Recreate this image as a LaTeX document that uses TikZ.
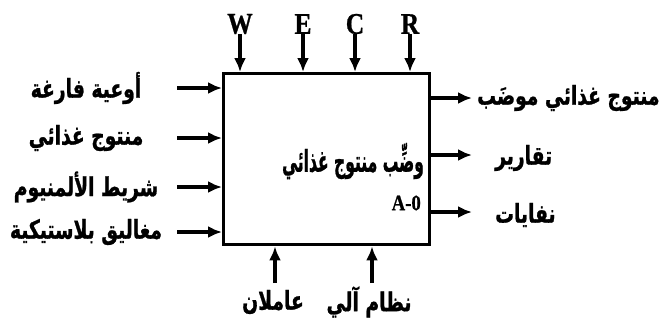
\documentclass[tikz,border=0pt]{standalone}
\usepackage{fontspec}
\newfontfamily\arabicfont[Script=Arabic, FakeStretch=0.72, BoldFeatures={FakeBold=1}]{DejaVu Sans}
\newfontfamily\latinfont[FakeStretch=0.85, BoldFeatures={FakeBold=0.8}]{Liberation Serif}
\TeXXeTstate=1
\usetikzlibrary{positioning,arrows.meta}
\tikzset{
  flow/.style={-{Latex[length=14pt,width=12pt]}, line width=3.4pt},
  arlabel/.style={font=\arabicfont\bfseries\fontsize{26}{30}\selectfont, inner sep=0pt},
  ctrl/.style={font=\latinfont\bfseries\fontsize{30}{32}\selectfont, inner sep=0pt},
}
\begin{document}
\begin{tikzpicture}[x=1pt, y=-1pt]
    \useasboundingbox (0,0) rectangle (672,322);
    % activity box
    \node[draw, line width=3.4pt, minimum width=206pt, minimum height=171pt, inner sep=0pt, anchor=north west] (box) at (222,72) {};
    \node[arlabel, font=\arabicfont\bfseries\fontsize{30}{34}\selectfont] (act) at (353,161) {\scalebox{0.72}[1]{\beginR وضِّب منتوج غذائي\endR}};
    \node[ctrl, font=\latinfont\bfseries\fontsize{22}{24}\selectfont, anchor=east] (num) at (421,203) {A-0};
    % controls
    \foreach \name/\lbl/\px in {w/W/240, e/E/303, c/C/355, r/R/410} {
        \node[ctrl] (\name) at (\px,24) {\lbl};
        \draw[flow] (\name.south) -- (\name.south |- box.north);
    }
    % inputs
    \foreach \name/\txt/\py in {in1/أوعية فارغة/88, in2/منتوج غذائي/138, in3/شريط الألمنيوم/187, in4/مغاليق بلاستيكية/232} {
        \node[arlabel] (\name) at (86,\py) {\beginR\txt\endR};
        \coordinate (\name s) at (177,\py);
        \draw[flow] (\name s) -- (box.west |- \name s);
    }
    % outputs
    \coordinate (out1e) at (472,98);
    \coordinate (out2e) at (472,155);
    \coordinate (out3e) at (472,212);
    \draw[flow] (box.east |- out1e) -- (out1e);
    \draw[flow] (box.east |- out2e) -- (out2e);
    \draw[flow] (box.east |- out3e) -- (out3e);
    \node[arlabel, anchor=west] (out1) at (477,98) {\beginR منتوج غذائي موضَب\endR};
    \node[arlabel, anchor=west] (out2) at (495,158) {\beginR تقارير\endR};
    \node[arlabel, anchor=west] (out3) at (495,215) {\beginR نفايات\endR};
    % mechanisms
    \coordinate (m1s) at (275,283);
    \coordinate (m2s) at (372,283);
    \draw[flow] (m1s) -- (m1s |- box.south);
    \draw[flow] (m2s) -- (m2s |- box.south);
    \node[arlabel] (m1) at (273,302) {\beginR عاملان\endR};
    \node[arlabel] (m2) at (369,302) {\beginR نظام آلي\endR};
\end{tikzpicture}
\end{document}
